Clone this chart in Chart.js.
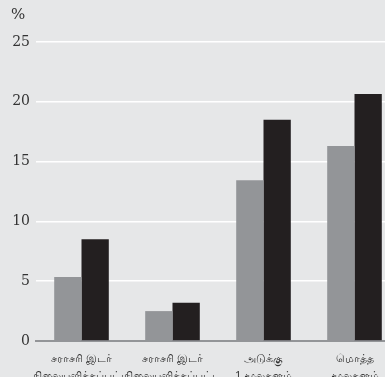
<!DOCTYPE html>
<html>
<head>
<meta charset="utf-8">
<script src="https://cdn.jsdelivr.net/npm/chart.js@4"></script>
<style>
  html, body { margin: 0; padding: 0; background: #e6e7e8; overflow: hidden; }
  #wrap { width: 400px; height: 377px; }
</style>
</head>
<body>
<div id="wrap"><canvas id="chart"></canvas></div>
<script>
// Chart data
const categories = [
  ['சராசரி இடர்', 'நிலையளிக்கப்பட்ட'],
  ['சராசரி இடர்', 'நிலையளிக்கப்பட்ட'],
  ['அடுக்கு', '1 மூலதனம்'],
  ['மொத்த', 'மூலதனம்']
];
const seriesGrey = [5.35, 2.5, 13.45, 16.3];
const seriesBlack = [8.5, 3.2, 18.5, 20.65];
const yTicks = [0, 5, 10, 15, 20, 25];

// Draws the "%" unit label top-left
const unitLabel = {
  id: 'unitLabel',
  afterDraw(chart) {
    const ctx = chart.ctx;
    ctx.save();
    ctx.font = '15px "DejaVu Serif"';
    ctx.fillStyle = '#333';
    ctx.textAlign = 'left';
    ctx.textBaseline = 'middle';
    ctx.fillText('%', 11, 15);
    ctx.restore();
  }
};

const ctx = document.getElementById('chart').getContext('2d');
new Chart(ctx, {
  type: 'bar',
  data: {
    labels: categories,
    datasets: [{
      data: seriesGrey,
      backgroundColor: '#939598',
      categoryPercentage: 0.6,
      barPercentage: 1
    }, {
      data: seriesBlack,
      backgroundColor: '#231f20',
      categoryPercentage: 0.6,
      barPercentage: 1
    }]
  },
  options: {
    responsive: true,
    maintainAspectRatio: false,
    animation: false,
    layout: { padding: { top: 42, right: 0, left: 0, bottom: 0 } },
    plugins: {
      legend: { display: false },
      tooltip: { enabled: false }
    },
    scales: {
      x: {
        grid: { display: false, drawTicks: false },
        border: { display: true, color: '#939598', width: 2 },
        ticks: {
          color: '#333',
          font: { family: 'Noto Sans', size: 11, lineHeight: 1.5 },
          padding: 10,
          maxRotation: 0,
          autoSkip: false
        },
        afterFit(scale) { scale.height = 36; }
      },
      y: {
        min: 0,
        max: 25,
        afterBuildTicks(scale) { scale.ticks = yTicks.map(v => ({ value: v })); },
        grid: { color: '#ffffff', lineWidth: 1.5, drawTicks: false },
        border: { display: false },
        ticks: {
          color: '#333',
          font: { family: 'DejaVu Serif', size: 14 },
          padding: 6
        },
        afterFit(scale) { scale.width = 36; }
      }
    }
  },
  plugins: [unitLabel]
});
</script>
</body>
</html>
